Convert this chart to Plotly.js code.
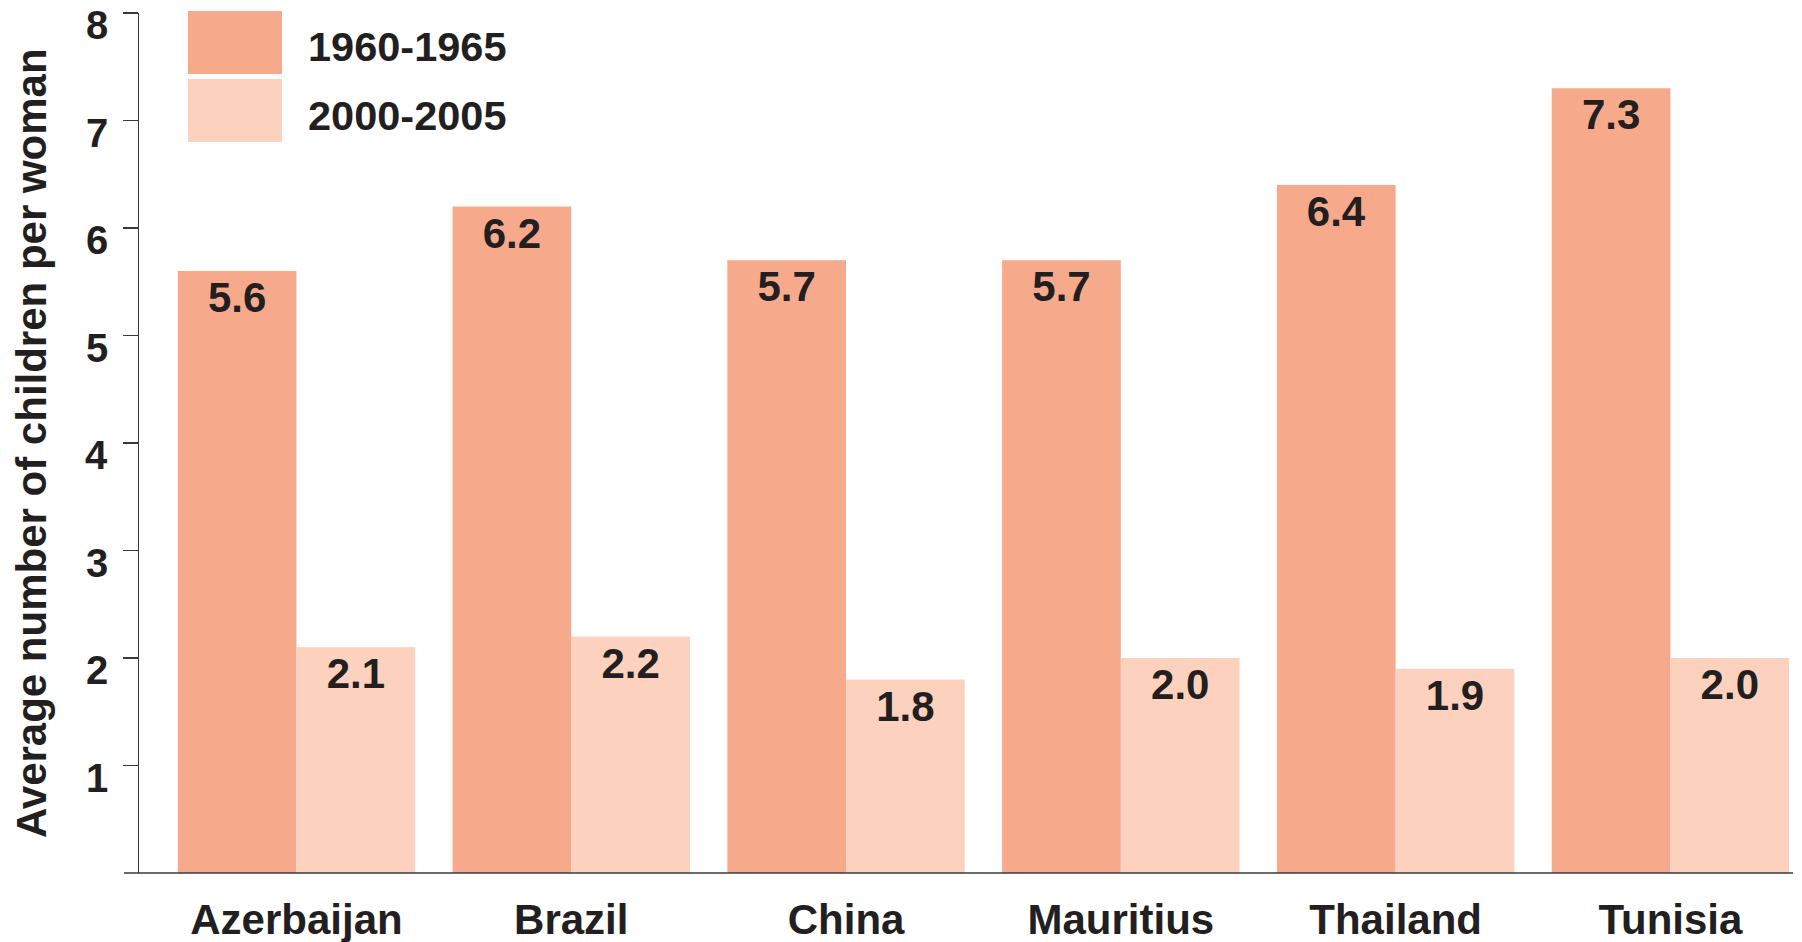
<!DOCTYPE html>
<html>
<head>
<meta charset="utf-8">
<script src="https://cdn.plot.ly/plotly-3.0.1.min.js"></script>
<style>
  html, body { margin: 0; padding: 0; background: #ffffff; }
  #chart { width: 1802px; height: 942px; }
</style>
</head>
<body>
<div id="chart"></div>
<script>
// Total fertility rate, two periods, six countries
const countries = ['Azerbaijan', 'Brazil', 'China', 'Mauritius', 'Thailand', 'Tunisia'];
const period1Name = '1960-1965';
const period2Name = '2000-2005';
const period1Values = [5.6, 6.2, 5.7, 5.7, 6.4, 7.3];
const period2Values = [2.1, 2.2, 1.8, 2.0, 1.9, 2.0];
const yTicks = [1, 2, 3, 4, 5, 6, 7, 8];
const yTitle = 'Average number of children per woman';

const darkColor = '#F6AA8B';
const lightColor = '#FCD1BE';
const inkColor = '#231F20';
const axisColor = '#3a3a3a';
const fontFamily = '"Liberation Sans", Arial, Helvetica, sans-serif';

// Plot-area geometry in pixels
const W = 1802, H = 942;
const M = { l: 139, r: 9, t: 13, b: 69 };
const plotW = W - M.l - M.r;
const plotH = H - M.t - M.b;
const px = x => (x - M.l) / plotW;           // page x -> paper x
const py = y => (H - M.b - y) / plotH;       // page y -> paper y

const labelFont = { family: fontFamily, size: 42, color: inkColor, weight: 'bold' };

function barTrace(name, values, color) {
  return {
    type: 'bar',
    name: name,
    x: countries,
    y: values,
    marker: { color: color, line: { width: 0 } },
    texttemplate: '<b>%{y:.1f}</b>',
    textposition: 'inside',
    insidetextanchor: 'end',
    textangle: 0,
    constraintext: 'none',
    insidetextfont: labelFont,
    hoverinfo: 'x+y+name'
  };
}

const traces = [
  barTrace(period1Name, period1Values, darkColor),
  barTrace(period2Name, period2Values, lightColor)
];

// Hand-drawn legend: large swatches with labels
const legendItems = [
  { name: period1Name, color: darkColor, top: 11, bottom: 74, textY: 46 },
  { name: period2Name, color: lightColor, top: 79, bottom: 142, textY: 115 }
];

const shapes = [
  // baseline extends left past the value axis
  {
    type: 'line', xref: 'paper', yref: 'paper',
    x0: px(124), x1: 1, y0: 0, y1: 0,
    line: { color: axisColor, width: 1.5 }
  }
];
const annotations = [
  // rotated value-axis title
  {
    xref: 'paper', yref: 'paper',
    x: px(31), y: 0.5,
    xanchor: 'center', yanchor: 'middle',
    textangle: -90,
    text: '<b>' + yTitle + '</b>',
    showarrow: false,
    font: { family: fontFamily, size: 42, color: inkColor }
  }
];

// value-axis tick labels, hung just below their tick marks
yTicks.forEach(v => {
  annotations.push({
    xref: 'paper', yref: 'y',
    x: px(110), y: v,
    xanchor: 'right', yanchor: 'middle',
    yshift: -12,
    text: '<b>' + v + '</b>',
    showarrow: false,
    font: { family: fontFamily, size: 40, color: inkColor }
  });
});

legendItems.forEach(item => {
  shapes.push({
    type: 'rect', xref: 'paper', yref: 'paper',
    x0: px(188), x1: px(282), y0: py(item.bottom), y1: py(item.top),
    fillcolor: item.color, line: { width: 0 }, layer: 'above'
  });
  annotations.push({
    xref: 'paper', yref: 'paper',
    x: px(306), y: py(item.textY),
    xanchor: 'left', yanchor: 'middle',
    text: '<b>' + item.name + '</b>',
    showarrow: false,
    font: { family: fontFamily, size: 41.5, color: inkColor }
  });
});

const layout = {
  width: W,
  height: H,
  margin: M,
  paper_bgcolor: '#ffffff',
  plot_bgcolor: '#ffffff',
  showlegend: false,
  barmode: 'group',
  bargap: 0.136,
  bargroupgap: 0,
  font: { family: fontFamily, color: inkColor },
  xaxis: {
    type: 'category',
    range: [-0.573, 5.446],
    showgrid: false,
    zeroline: false,
    showline: false,
    ticks: '',
    ticklabelstandoff: 18,
    tickfont: { family: fontFamily, size: 42, color: inkColor, weight: 'bold' },
    automargin: false,
    fixedrange: true
  },
  yaxis: {
    range: [0, 8],
    tickvals: yTicks,
    showticklabels: false,
    showgrid: false,
    zeroline: false,
    showline: true,
    linecolor: axisColor,
    linewidth: 1.5,
    ticks: 'outside',
    ticklen: 15,
    tickwidth: 1.5,
    tickcolor: axisColor,
    automargin: false,
    fixedrange: true
  },
  shapes: shapes,
  annotations: annotations
};

Plotly.newPlot('chart', traces, layout, { staticPlot: true, displayModeBar: false });
</script>
</body>
</html>
